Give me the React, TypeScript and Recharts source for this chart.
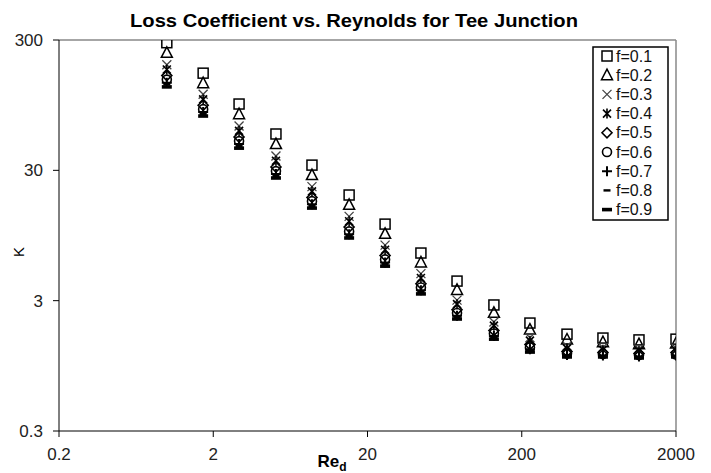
import React from "react";
import {
  Customized,
  ReferenceLine,
  Scatter,
  ScatterChart,
  XAxis,
  YAxis,
} from "recharts";

// Reynolds numbers (one column of markers per value)
const reynolds = [1, 1.72, 2.94, 5.1, 8.73, 15.2, 26, 44.4, 76.1, 132, 226, 393, 672, 1151, 2000];

// loss coefficient K for each flow fraction f
const kF01 = [286, 167, 96.8, 57.0, 32.9, 19.4, 11.6, 6.96, 4.24, 2.78, 2.02, 1.66, 1.55, 1.5, 1.52];
const kF02 = [239, 140, 80.9, 47.7, 27.6, 16.3, 9.78, 5.89, 3.63, 2.42, 1.8, 1.51, 1.44, 1.39, 1.41];
const kF03 = [194, 115, 65.6, 38.6, 22.5, 13.3, 8.0, 4.84, 3.03, 2.06, 1.56, 1.35, 1.31, 1.28, 1.3];
const kF04 = [178, 105, 60.2, 35.5, 20.7, 12.2, 7.38, 4.48, 2.82, 1.93, 1.48, 1.29, 1.26, 1.24, 1.25];
const kF05 = [160, 94.7, 54.0, 31.8, 18.6, 11.0, 6.65, 4.04, 2.56, 1.77, 1.38, 1.22, 1.2, 1.18, 1.2];
const kF06 = [149, 88.4, 50.3, 29.6, 17.4, 10.2, 6.22, 3.79, 2.41, 1.68, 1.31, 1.18, 1.17, 1.15, 1.16];
const kF07 = [141, 83.9, 47.7, 28.1, 16.5, 9.72, 5.9, 3.6, 2.3, 1.61, 1.27, 1.15, 1.14, 1.12, 1.14];
const kF08 = [137, 81.4, 46.3, 27.2, 16.0, 9.43, 5.73, 3.49, 2.24, 1.57, 1.24, 1.13, 1.13, 1.11, 1.12];
const kF09 = [131, 78.3, 44.4, 26.2, 15.4, 9.08, 5.52, 3.38, 2.17, 1.52, 1.21, 1.11, 1.11, 1.09, 1.11];

const seriesNames = ["f=0.1", "f=0.2", "f=0.3", "f=0.4", "f=0.5", "f=0.6", "f=0.7", "f=0.8", "f=0.9"];
const seriesValues = [kF01, kF02, kF03, kF04, kF05, kF06, kF07, kF08, kF09];
const markerKinds = ["square", "triangle", "cross", "star", "diamond", "circle", "plus", "dash", "bar"];

const xTicks = [0.2, 2, 20, 200, 2000];
const yTicks = [0.3, 3, 30, 300];

const FONT = "'Liberation Sans', Arial, sans-serif";

function Marker({ kind, cx, cy }: { kind: string; cx: number; cy: number }) {
  if (cx == null || cy == null) return null;
  const stroke = "#000";
  switch (kind) {
    case "square":
      return <rect x={cx - 5} y={cy - 5} width={10} height={10} fill="none" stroke={stroke} strokeWidth={1.5} />;
    case "triangle":
      return (
        <polygon
          points={`${cx},${cy - 6} ${cx - 5.5},${cy + 4.5} ${cx + 5.5},${cy + 4.5}`}
          fill="none"
          stroke={stroke}
          strokeWidth={1.5}
        />
      );
    case "cross":
      return (
        <path
          d={`M${cx - 4.5},${cy - 4.5}L${cx + 4.5},${cy + 4.5}M${cx - 4.5},${cy + 4.5}L${cx + 4.5},${cy - 4.5}`}
          stroke="#444"
          strokeWidth={1.3}
        />
      );
    case "star":
      return (
        <path
          d={`M${cx - 4},${cy - 4}L${cx + 4},${cy + 4}M${cx - 4},${cy + 4}L${cx + 4},${cy - 4}M${cx},${cy - 5}L${cx},${cy + 5}`}
          stroke={stroke}
          strokeWidth={1.6}
        />
      );
    case "diamond":
      return (
        <polygon
          points={`${cx},${cy - 5} ${cx + 5},${cy} ${cx},${cy + 5} ${cx - 5},${cy}`}
          fill="none"
          stroke={stroke}
          strokeWidth={1.6}
        />
      );
    case "circle":
      return <circle cx={cx} cy={cy} r={4.5} fill="none" stroke={stroke} strokeWidth={1.6} />;
    case "plus":
      return (
        <path d={`M${cx - 5},${cy}L${cx + 5},${cy}M${cx},${cy - 5}L${cx},${cy + 5}`} stroke={stroke} strokeWidth={2} />
      );
    case "dash":
      return <rect x={cx - 3.5} y={cy - 1.2} width={7} height={2.4} fill={stroke} />;
    default:
      return <rect x={cx - 5} y={cy - 1.8} width={10} height={3.6} fill={stroke} />;
  }
}

function ChartTitle() {
  return (
    <text
      x={130}
      y={27}
      textLength={448}
      lengthAdjust="spacingAndGlyphs"
      fontFamily={FONT}
      fontWeight="bold"
      fontSize={19}
      fill="#000"
    >
      Loss Coefficient vs. Reynolds for Tee Junction
    </text>
  );
}

function KeyBox() {
  return (
    <g>
      <rect x={593} y={47} width={75} height={173} fill="#fff" stroke="#000" strokeWidth={1.5} />
      {seriesNames.map((name, i) => {
        const y = 56 + i * 19.2;
        return (
          <g key={name}>
            <Marker kind={markerKinds[i]} cx={607} cy={y} />
            <text x={616} y={y + 5.5} fontFamily={FONT} fontSize={16} fill="#111">
              {name}
            </text>
          </g>
        );
      })}
    </g>
  );
}

export default function App() {
  return (
    <div style={{ position: "absolute", left: 0, top: 0, background: "#fff" }}>
      <ScatterChart width={711} height={473} margin={{ top: 40, right: 35, left: 0, bottom: 0 }}>
        <XAxis
          type="number"
          dataKey="re"
          scale="log"
          domain={[0.2, 2000]}
          ticks={xTicks}
          allowDataOverflow
          height={42}
          tickSize={6}
          tickMargin={11}
          stroke="#000"
          tick={{ fill: "#222", fontSize: 17, fontFamily: FONT }}
          label={{
            content: ({ viewBox }: any) => (
              <text x={viewBox.x + viewBox.width / 2 - 50} y={viewBox.y + 36} fontFamily={FONT} fill="#000">
                <tspan fontWeight="bold" fontSize={17}>Re</tspan>
                <tspan fontWeight="bold" fontSize={12} dy={4}>d</tspan>
              </text>
            ),
          }}
        />
        <YAxis
          type="number"
          dataKey="k"
          scale="log"
          domain={[0.3, 300]}
          ticks={yTicks}
          allowDataOverflow
          width={59}
          tickSize={6}
          tickMargin={10}
          stroke="#000"
          tick={{ fill: "#222", fontSize: 17, fontFamily: FONT }}
          label={{
            content: () => (
              <text
                x={20}
                y={252}
                transform="rotate(-90 20 252)"
                textAnchor="middle"
                dominantBaseline="middle"
                fontFamily={FONT}
                fontSize={15}
                fill="#000"
              >
                K
              </text>
            ),
          }}
        />
        <ReferenceLine y={300} stroke="#888" strokeWidth={1.5} />
        <ReferenceLine x={2000} stroke="#888" strokeWidth={1.5} />
        {seriesValues.map((vals, s) => (
          <Scatter
            key={seriesNames[s]}
            name={seriesNames[s]}
            data={reynolds.map((re, i) => ({ re, k: vals[i] }))}
            isAnimationActive={false}
            shape={(p: any) => <Marker kind={markerKinds[s]} cx={p.cx} cy={p.cy} />}
          />
        ))}
        <Customized component={<ChartTitle />} />
        <Customized component={<KeyBox />} />
      </ScatterChart>
    </div>
  );
}
